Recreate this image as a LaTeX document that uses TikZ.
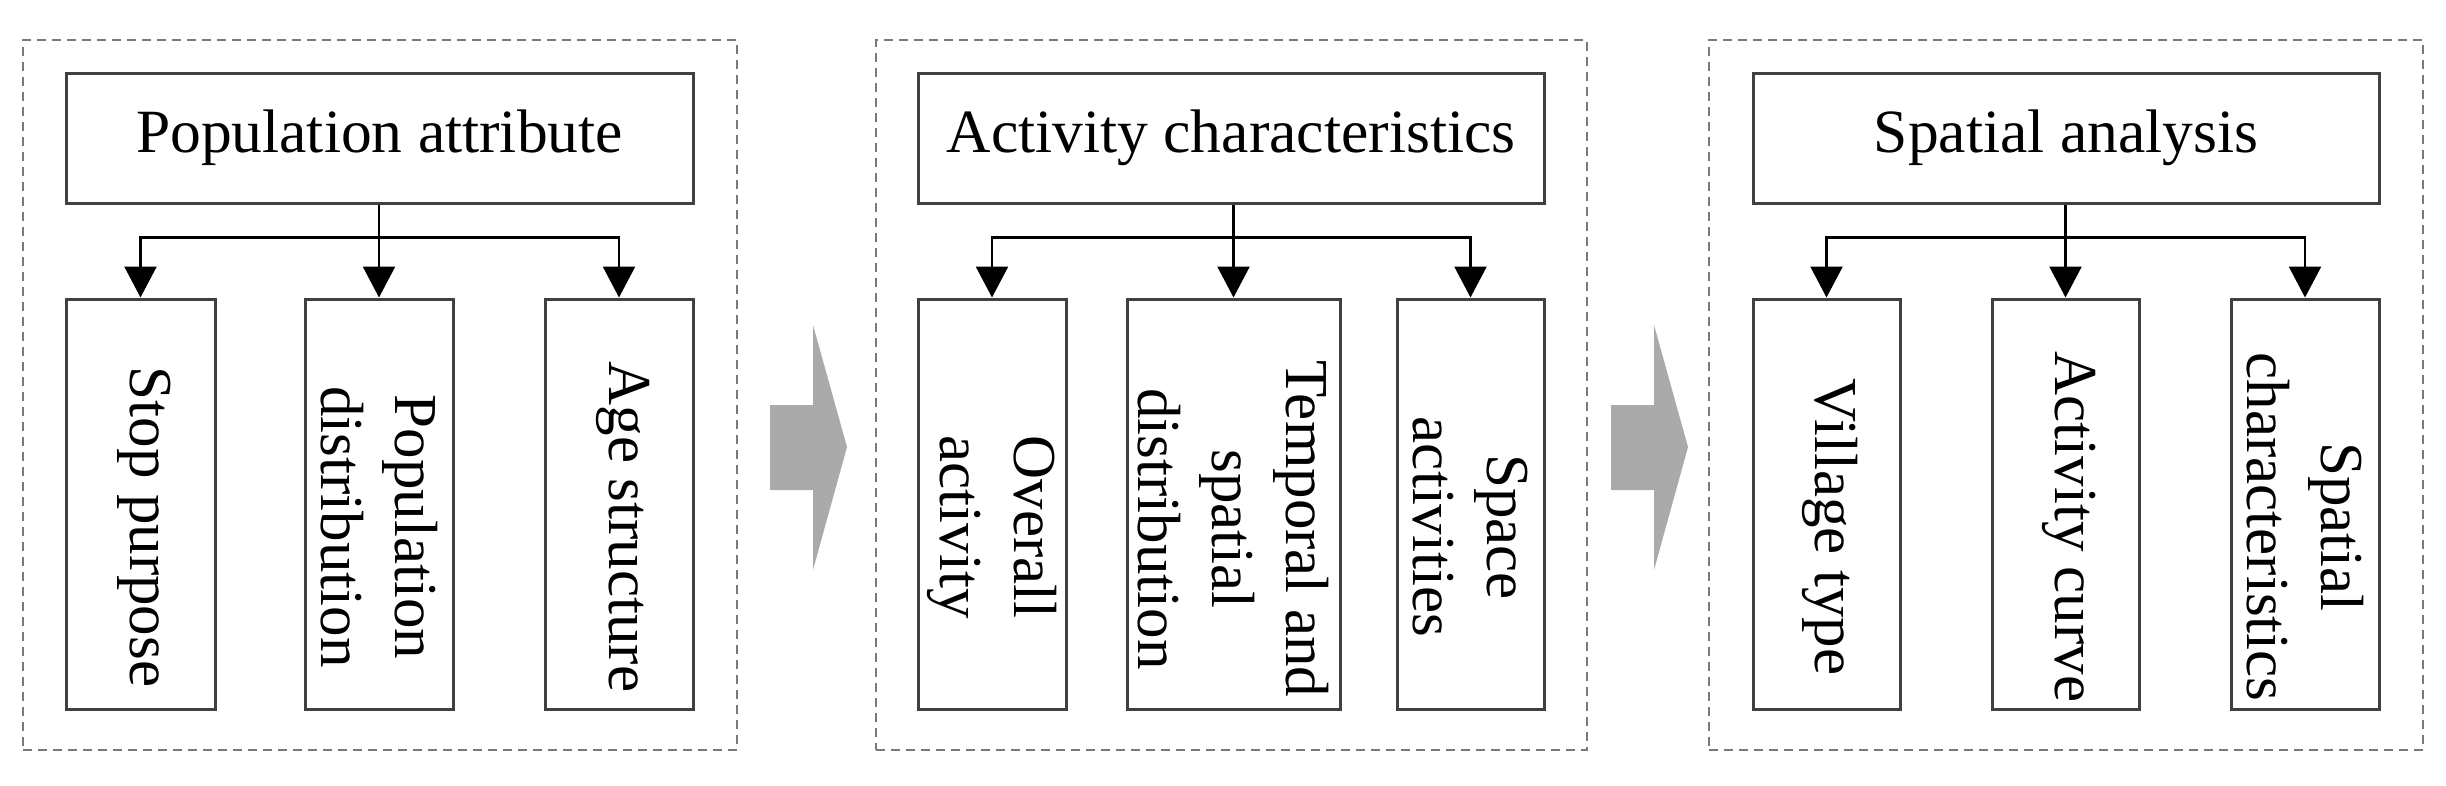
\documentclass[tikz,border=0pt]{standalone}
\usepackage{fontspec}
\setmainfont{Liberation Serif}
\usetikzlibrary{arrows.meta,calc}
\definecolor{boxc}{HTML}{404040}
\definecolor{dashc}{HTML}{7A7A7A}
\definecolor{arrc}{HTML}{AAAAAA}
\begin{document}
\begin{tikzpicture}[x=1pt,y=-1pt,
  tbox/.style={draw=boxc, line width=3pt, inner sep=0pt, minimum height=130pt, font=\fontsize{61.5}{74}\selectfont},
  cbox/.style={draw=boxc, line width=3pt, inner sep=0pt, minimum height=410pt},
  vtext/.style={rotate=-90, align=center, inner sep=0pt, font=\fontsize{61}{74}\selectfont},
  panel/.style={draw=dashc, line width=1.8pt, dash pattern=on 9pt off 6pt, inner sep=0pt, minimum height=710pt},
  conn/.style={draw=black, line width=2.5pt, -{Triangle[width=32pt,length=31pt]}},
  bigarrow/.style={fill=arrc, draw=none}]
\useasboundingbox (0,0) rectangle (2446,785);

% panels
\node[panel, minimum width=714pt] (p1) at (380,395) {};
\node[panel, minimum width=711pt] (p2) at (1231.5,395) {};
\node[panel, minimum width=714pt] (p3) at (2066,395) {};

% top boxes
\node[tbox, minimum width=627pt] (t1) at (379.5,138) {Population attribute};
\node[tbox, minimum width=626pt] (t2) at (1231,138) {Activity characteristics};
\node[tbox, minimum width=626pt] (t3) at (2066,138) {Spatial analysis};

% child boxes
\node[cbox, minimum width=149pt] (c11) at (140.5,504) {};
\node[cbox, minimum width=148pt] (c12) at (379,504) {};
\node[cbox, minimum width=148pt] (c13) at (619,504) {};
\node[cbox, minimum width=148pt] (c21) at (992,504) {};
\node[cbox, minimum width=213pt] (c22) at (1233.5,504) {};
\node[cbox, minimum width=147pt] (c23) at (1470.5,504) {};
\node[cbox, minimum width=147pt] (c31) at (1826.5,504) {};
\node[cbox, minimum width=147pt] (c32) at (2065.5,504) {};
\node[cbox, minimum width=148pt] (c33) at (2305,504) {};

% child texts
\node[vtext] (l11) at ($(c11.center)+(4,23)$) {Stop purpose};
\node[vtext] (l12) at ($(c12.center)+(0,23)$) {Population\\distribution};
\node[vtext] (l13) at ($(c13.center)+(4,23)$) {Age structure};
\node[vtext] (l21) at ($(c21.center)+(0,23)$) {Overall\\activity};
\node[vtext] (l22) at ($(c22.center)+(0,25)$) {Temporal and\\spatial\\distribution};
\node[vtext] (l23) at ($(c23.center)+(0,23)$) {Space\\activities};
\node[vtext] (l31) at ($(c31.center)+(4,23)$) {Village type};
\node[vtext] (l32) at ($(c32.center)+(4,23)$) {Activity curve};
\node[vtext] (l33) at ($(c33.center)+(0,23)$) {Spatial\\characteristics};

% connectors
\foreach \p in {1,2,3}{
  \path (c\p2.north) ++(0,-60) coordinate (j\p);
  \draw[conn] (t\p.south -| c\p2.north) -- (c\p2.north);
  \draw[conn] (j\p) -| (c\p1.north);
  \draw[conn] (j\p) -| (c\p3.north);
}

% big gray arrows
\fill[bigarrow] (770,405) -- (813,405) -- (813,325) -- (847,447) -- (813,570) -- (813,490) -- (770,490) -- cycle;
\fill[bigarrow] (1611,405) -- (1654,405) -- (1654,325) -- (1688,447) -- (1654,570) -- (1654,490) -- (1611,490) -- cycle;
\end{tikzpicture}
\end{document}
